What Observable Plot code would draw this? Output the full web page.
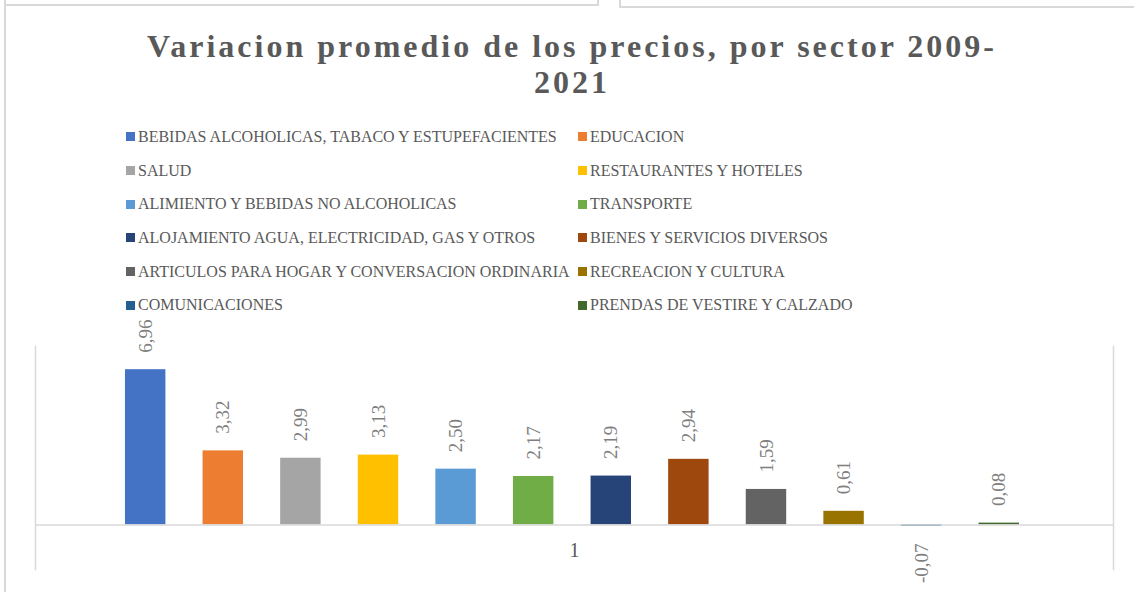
<!DOCTYPE html>
<html>
<head>
<meta charset="utf-8">
<script src="https://cdn.jsdelivr.net/npm/d3@7"></script>
<script src="https://cdn.jsdelivr.net/npm/@observablehq/plot@0.6"></script>
<style>
  html, body { margin: 0; padding: 0; background: #fff; }
  #page { position: relative; width: 1134px; height: 592px; overflow: hidden; background: #fff; font-family: "Liberation Serif", "Times New Roman", serif; }
  .ui { position: absolute; background: #d9d9d9; }
  #title { position: absolute; left: 10px; width: 1124px; top: 28px; text-align: center; font-size: 32px; font-weight: bold; letter-spacing: 3px; line-height: 36px; color: #595959; }
  #legend { position: absolute; left: 126px; top: 120px; display: grid; grid-template-columns: 452px auto; grid-auto-rows: 33.7px; }
  .item { display: flex; align-items: center; font-size: 16px; color: #595959; white-space: nowrap; line-height: 33.7px; }
  .sw { width: 9px; height: 9px; margin-right: 3px; flex: none; }
  #chart { position: absolute; left: 0; top: 314px; }
</style>
</head>
<body>
<div id="page">
  <div class="ui" style="left:4px;top:0;width:2px;height:592px"></div>
  <div class="ui" style="left:4px;top:4px;width:595px;height:2px"></div>
  <div class="ui" style="left:597px;top:0;width:2px;height:6px"></div>
  <div class="ui" style="left:619px;top:0;width:2px;height:8px"></div>
  <div class="ui" style="left:619px;top:6px;width:515px;height:2px"></div>
  <div id="title">Variacion promedio de los precios, por sector 2009-<br>2021</div>
  <div id="legend"></div>
  <div id="chart"></div>
</div>
<script>
const categoryLabels = ["1"];
const sectors = [
  "BEBIDAS ALCOHOLICAS, TABACO Y ESTUPEFACIENTES",
  "EDUCACION",
  "SALUD",
  "RESTAURANTES Y HOTELES",
  "ALIMIENTO Y BEBIDAS NO ALCOHOLICAS",
  "TRANSPORTE",
  "ALOJAMIENTO AGUA, ELECTRICIDAD, GAS Y OTROS",
  "BIENES Y SERVICIOS DIVERSOS",
  "ARTICULOS PARA HOGAR Y CONVERSACION ORDINARIA",
  "RECREACION Y CULTURA",
  "COMUNICACIONES",
  "PRENDAS DE VESTIRE Y CALZADO"
];
const values = [6.96, 3.32, 2.99, 3.13, 2.50, 2.17, 2.19, 2.94, 1.59, 0.61, -0.07, 0.08];
const colors = ["#4472C4", "#ED7D31", "#A5A5A5", "#FFC000", "#5B9BD5", "#70AD47",
                "#264478", "#9E480E", "#636363", "#997300", "#255E91", "#43682B"];

const data = sectors.map((s, i) => ({sector: s, value: values[i]}));
const fmt = v => v.toFixed(2).replace(".", ",");

// Legend (HTML)
const legend = document.getElementById("legend");
sectors.forEach((s, i) => {
  const item = document.createElement("div");
  item.className = "item";
  const sw = document.createElement("span");
  sw.className = "sw";
  sw.style.background = colors[i];
  item.appendChild(sw);
  item.appendChild(document.createTextNode(s));
  legend.appendChild(item);
});

const labelStyle = {fill: "#7f7f7f", fontSize: 19, rotate: -90, fontFamily: "Liberation Serif"};

const chart = Plot.plot({
  width: 1134,
  height: 278,
  marginTop: 32,
  marginBottom: 23,
  marginLeft: 35,
  marginRight: 21,
  x: {domain: sectors, paddingInner: 0.479, paddingOuter: 1.1855, align: 0.489, round: false, axis: null},
  y: {domain: [-2, 8], axis: null},
  color: {domain: sectors, range: colors},
  style: {fontFamily: "Liberation Serif", overflow: "visible", background: "transparent"},
  marks: [
    Plot.frame({anchor: "left", stroke: "#d9d9d9", strokeWidth: 1.5}),
    Plot.frame({anchor: "right", stroke: "#d9d9d9", strokeWidth: 1.5}),
    Plot.barY(data, {x: "sector", y: "value", fill: "sector"}),
    Plot.ruleY([0], {stroke: "#d9d9d9", strokeWidth: 1.5}),
    Plot.text(data.filter(d => d.value >= 0), {x: "sector", y: "value", text: d => fmt(d.value), textAnchor: "start", dy: -17, ...labelStyle}),
    Plot.text(data.filter(d => d.value < 0), {x: "sector", y: "value", text: d => fmt(d.value), textAnchor: "end", dy: 17, ...labelStyle}),
    Plot.text(categoryLabels, {y: () => 0, text: d => d, dy: 26, fontSize: 20, fill: "#595959"})
  ]
});
document.getElementById("chart").appendChild(chart);
</script>
</body>
</html>
